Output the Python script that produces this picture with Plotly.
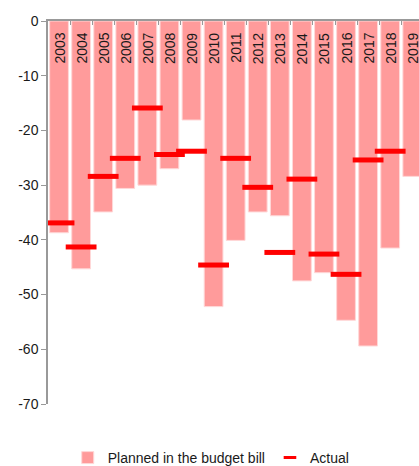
import plotly.graph_objects as go

years = ["2003", "2004", "2005", "2006", "2007", "2008", "2009", "2010", "2011",
         "2012", "2013", "2014", "2015", "2016", "2017", "2018", "2019"]
planned = [-38.7, -45.3, -34.9, -30.6, -30.0, -27.0, -18.1, -52.2, -40.1,
           -34.9, -35.6, -47.5, -46.0, -54.7, -59.4, -41.5, -28.4]
actual = [-36.9, -41.3, -28.4, -25.1, -15.9, -24.4, -23.8, -44.6, -25.1,
          -30.4, -42.3, -28.9, -42.6, -46.3, -25.4, -23.8, None]
y_ticks = [0, -10, -20, -30, -40, -50, -60, -70]

FONT = "Liberation Sans, Arial, sans-serif"

fig = go.Figure()
fig.add_trace(go.Bar(
    x=years, y=planned, name="Planned in the budget bill",
    marker=dict(color="#FF9B9B", line=dict(color="#FFD8D8", width=1)),
))
fig.add_trace(go.Scatter(
    x=years, y=actual, mode="markers", name="Actual", showlegend=False,
    marker=dict(symbol="line-ew", size=22, line=dict(color="#FF0000", width=5)),
))
fig.add_trace(go.Scatter(
    x=[years[0]], y=[None], mode="markers", name="Actual",
    marker=dict(symbol="line-ew", size=9, line=dict(color="#FF0000", width=3)),
))

for i, yr in enumerate(years):
    fig.add_annotation(x=i, y=0, xref="x", yref="y", text=yr, textangle=-90,
                       showarrow=False, xanchor="center", yanchor="top", yshift=-10,
                       font=dict(family=FONT, size=14, color="#1a1a1a"))

fig.update_layout(
    width=419, height=466,
    margin=dict(l=48, r=0, t=21, b=62, autoexpand=False),
    plot_bgcolor="white", paper_bgcolor="white",
    bargap=0.15,
    font=dict(family=FONT, size=14, color="#1a1a1a"),
    showlegend=True,
    legend=dict(orientation="h", x=0.44, xanchor="center", y=-0.141, yanchor="middle",
                font=dict(family=FONT, size=14, color="#1a1a1a"),
                itemwidth=30, tracegroupgap=0),
    xaxis=dict(type="category", range=[-0.5, 16.305], side="top", automargin=False,
               showticklabels=False, showline=True, linecolor="#999999", linewidth=1.5,
               ticks="inside", tickson="boundaries", ticklen=4, tickcolor="#999999",
               showgrid=False, zeroline=False),
    yaxis=dict(range=[-70, 0], tickvals=y_ticks, ticktext=[str(v) for v in y_ticks],
               automargin=False,
               showline=True, linecolor="#999999", linewidth=1.5,
               ticks="outside", ticklen=5, tickcolor="#999999",
               showgrid=False, zeroline=False,
               tickfont=dict(family=FONT, size=14, color="#1a1a1a")),
)

fig.write_html(
    "out.html",
    config={"displayModeBar": False},
    post_script="document.body.style.margin='0';document.body.style.overflow='hidden';",
)
